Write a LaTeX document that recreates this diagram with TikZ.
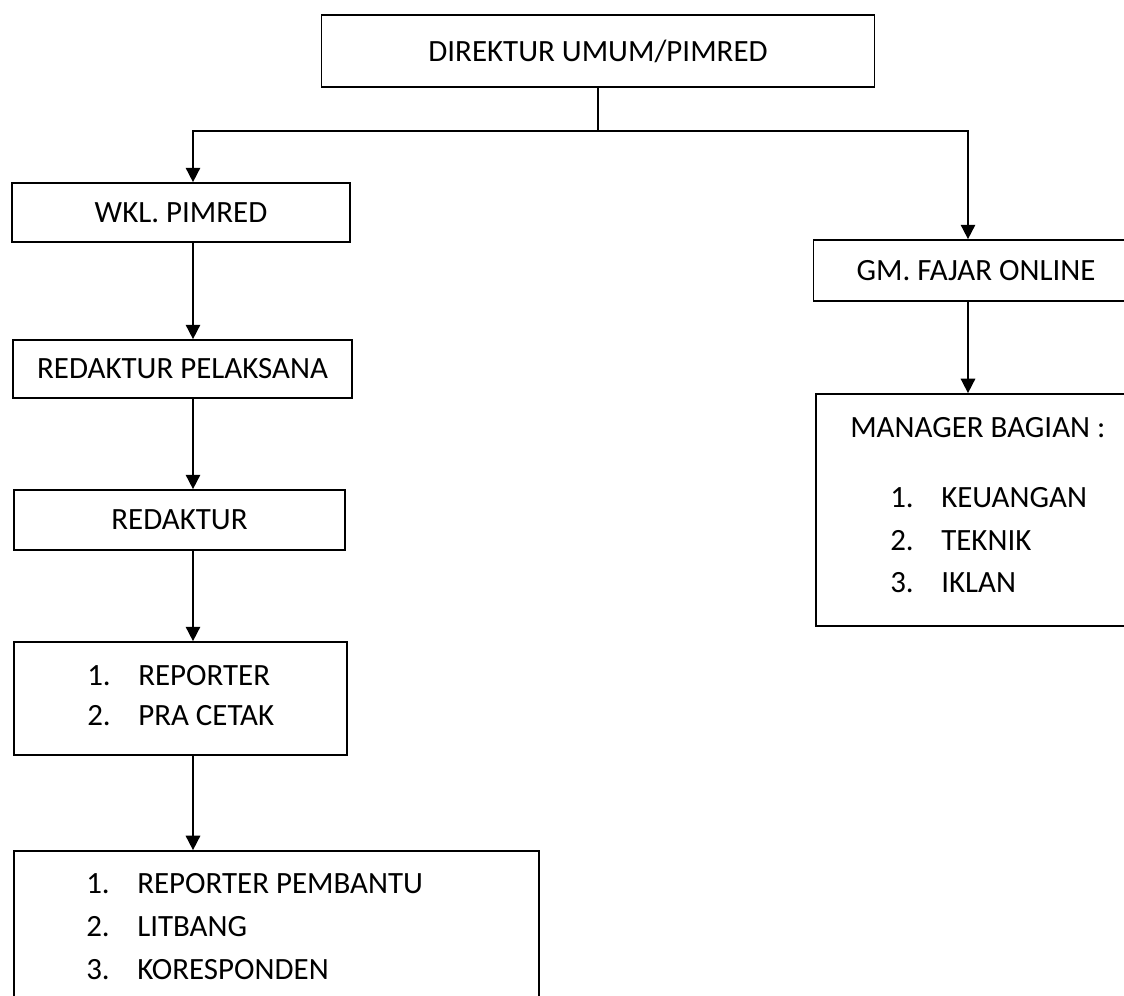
\documentclass[tikz,border=0pt]{standalone}
\usepackage{fontspec}
\setmainfont{Carlito}
\usetikzlibrary{positioning, arrows.meta}

\newcommand{\numrow}[2]{\makebox[1.275cm][l]{#1}#2}

\begin{document}
\begin{tikzpicture}[x=0.025cm, y=-0.025cm,
        every node/.style={font=\fontsize{22}{30}\selectfont, inner sep=0pt},
        box/.style={rectangle, draw, line width=1.2pt},
        item/.style={anchor=base west},
        link/.style={line width=1.2pt, -{Triangle[length=0.36cm, width=0.36cm]}}]
        \useasboundingbox (0,0) rectangle (1124,995);
        \clip (0,0) rectangle (1124,995);

        % Top
        \node[box, minimum width=13.825cm, minimum height=1.8cm] (direktur) at (598,51) {DIREKTUR UMUM/PIMRED};

        % Left column
        \node[box, minimum width=8.45cm, minimum height=1.475cm] (wkl) at (181,212.5) {WKL. PIMRED};
        \node[box, minimum width=8.475cm, minimum height=1.45cm] (redpel) at (182.5,369) {REDAKTUR PELAKSANA};
        \node[box, minimum width=8.275cm, minimum height=1.5cm] (redaktur) at (179.5,520) {REDAKTUR};
        \node[box, minimum width=8.325cm, minimum height=2.825cm] (reporter) at (180.5,698.5) {};
        \node[box, minimum width=13.125cm, minimum height=4cm] (pembantu) at (276.5,931) {};

        % Right column
        \node[box, minimum width=8.125cm, minimum height=1.525cm] (gm) at (976,270.5) {GM. FAJAR ONLINE};
        \node[box, minimum width=8.025cm, minimum height=5.8cm] (manager) at (976.5,510) {};

        % Lists
        \node[item] (rep1) at (87,685) {\numrow{1.}{REPORTER}};
        \node[item] (rep2) at (87,725) {\numrow{2.}{PRA CETAK}};

        \node[item] (pem1) at (86,893) {\numrow{1.}{REPORTER PEMBANTU}};
        \node[item] (pem2) at (86,936) {\numrow{2.}{LITBANG}};
        \node[item] (pem3) at (86,979) {\numrow{3.}{KORESPONDEN}};

        \node[item] (mgrhead) at (850,437) {MANAGER BAGIAN :};
        \node[item] (mgr1) at (890,507) {\numrow{1.}{KEUANGAN}};
        \node[item] (mgr2) at (890,550) {\numrow{2.}{TEKNIK}};
        \node[item] (mgr3) at (890,592) {\numrow{3.}{IKLAN}};

        % Links
        \coordinate (split) at (598,131);
        \coordinate (leftcol) at (193,131);
        \coordinate (rightcol) at (968,131);

        \draw[line width=1.2pt] (direktur.south) -- (split);
        \draw[link] (split) -| (wkl.north -| leftcol);
        \draw[link] (split) -| (gm.north -| rightcol);

        \draw[link] (wkl.south -| leftcol) -- (redpel.north -| leftcol);
        \draw[link] (redpel.south -| leftcol) -- (redaktur.north -| leftcol);
        \draw[link] (redaktur.south -| leftcol) -- (reporter.north -| leftcol);
        \draw[link] (reporter.south -| leftcol) -- (pembantu.north -| leftcol);

        \draw[link] (gm.south -| rightcol) -- (manager.north -| rightcol);
    \end{tikzpicture}
\end{document}
